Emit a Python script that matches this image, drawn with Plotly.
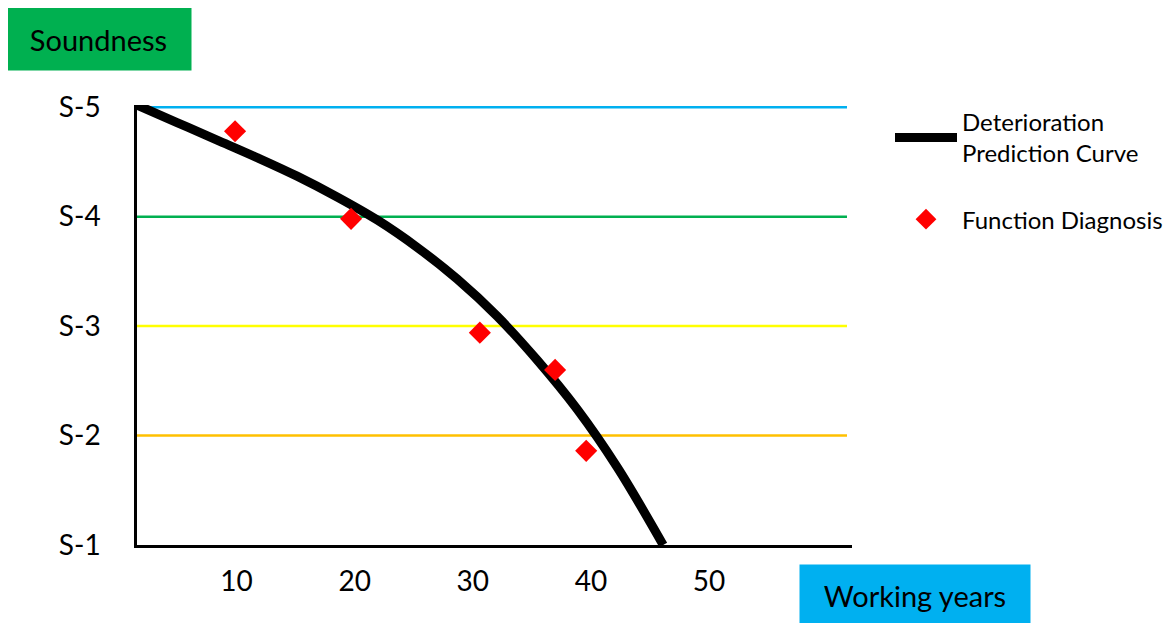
import plotly.graph_objects as go

# Data
curve_years = [1.58, 4.97, 8.36, 11.74, 15.13, 18.52, 21.91, 25.29, 28.68,
               32.07, 35.45, 38.84, 42.23, 46.12]
curve_soundness = [5.02, 4.86, 4.70, 4.54, 4.37, 4.18, 3.97, 3.72, 3.43,
                   3.09, 2.69, 2.24, 1.71, 1.00]
diag_years = [9.88, 19.7, 30.6, 36.97, 39.6]
diag_soundness = [4.78, 3.98, 2.94, 2.60, 1.86]
x_tick_vals = [10, 20, 30, 40, 50]
x_tick_text = ["10", "20", "30", "40", "50"]
y_tick_vals = [1, 2, 3, 4, 5]
y_tick_text = ["S-1", "S-2", "S-3", "S-4", "S-5"]
level_values = [5, 4, 3, 2]
level_colors = ["#00B0F0", "#00B050", "#FFFF00", "#FFC000"]

FONT = "Lato"
OFF = 8  # page body offset

fig = go.Figure()

for lv, col in zip(level_values, level_colors):
    fig.add_shape(type="line", xref="paper", x0=0, x1=0.993, yref="y", y0=lv, y1=lv,
                  line=dict(color=col, width=2.5), layer="below")

fig.add_trace(go.Scatter(
    x=curve_years, y=curve_soundness, mode="lines",
    line=dict(color="black", width=9, shape="spline", smoothing=1.0),
    name="Deterioration<br>Prediction Curve", legendgroup="curve",
    cliponaxis=False))
fig.add_trace(go.Scatter(
    x=diag_years, y=diag_soundness, mode="markers",
    marker=dict(symbol="diamond", size=17, color="#FF0000"),
    name="Function Diagnosis", legendgroup="diag", cliponaxis=False))

L, T, B = 137 - OFF, 105 - OFF, 545 - OFF
W, H = 1173, 623
fig.update_layout(
    width=W, height=H,
    margin=dict(l=L, r=W - L - 715, t=T, b=H - B),
    paper_bgcolor="white", plot_bgcolor="white",
    font=dict(family=FONT, color="black", size=24),
    showlegend=True,
    legend=dict(x=(890 - 137) / 715, y=1.012, xanchor="left", yanchor="top",
                font=dict(family=FONT, size=24, color="black"),
                tracegroupgap=32, itemwidth=62, bgcolor="rgba(0,0,0,0)"),
    xaxis=dict(range=[1.58, 62.1], tickvals=x_tick_vals, ticktext=x_tick_text,
               showgrid=False, zeroline=False, showline=True, linecolor="black",
               linewidth=2.5, ticks="", ticklabelstandoff=10,
               tickfont=dict(family=FONT, size=28, color="black")),
    yaxis=dict(range=[1, 5.02], tickvals=y_tick_vals, ticktext=y_tick_text,
               showgrid=False, zeroline=False, showline=True, linecolor="black",
               linewidth=2.5, ticks="", ticklabelstandoff=28,
               tickfont=dict(family=FONT, size=28, color="black")),
    annotations=[
        dict(text="Soundness", xref="paper", yref="paper",
             x=(98 - 137) / 715, y=(545 - 39) / 440, xanchor="center", yanchor="middle",
             showarrow=False, bgcolor="#00B050", width=183, height=60,
             font=dict(family=FONT, size=29, color="black")),
        dict(text="Working years", xref="paper", yref="paper",
             x=(915 - 137) / 715, y=(545 - 595) / 440, xanchor="center", yanchor="middle",
             showarrow=False, bgcolor="#00B0F0", width=228, height=58,
             font=dict(family=FONT, size=29, color="black")),
    ],
)

fig.write_html("out.html")
